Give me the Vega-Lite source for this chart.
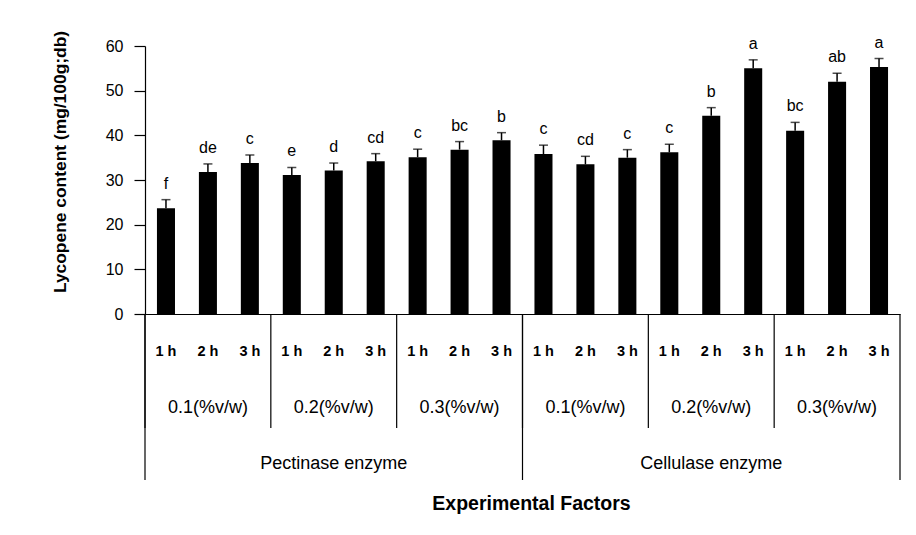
{
  "$schema": "https://vega.github.io/schema/vega-lite/v6.json",
  "padding": {"left": 50, "top": 30, "right": 18, "bottom": 10},
  "background": "white",
  "config": {
    "view": {"stroke": null},
    "font": "Liberation Sans",
    "text": {"color": "black", "font": "Liberation Sans"},
    "axis": {"labelFont": "Liberation Sans", "titleFont": "Liberation Sans"}
  },
  "datasets": {
    "bars": [
      {"id": 1, "enzyme": "Pectinase enzyme", "dose": "0.1(%v/w)", "time": "1 h", "value": 23.7, "upper": 25.6, "letter": "f"},
      {"id": 2, "enzyme": "Pectinase enzyme", "dose": "0.1(%v/w)", "time": "2 h", "value": 31.8, "upper": 33.6, "letter": "de"},
      {"id": 3, "enzyme": "Pectinase enzyme", "dose": "0.1(%v/w)", "time": "3 h", "value": 33.8, "upper": 35.6, "letter": "c"},
      {"id": 4, "enzyme": "Pectinase enzyme", "dose": "0.2(%v/w)", "time": "1 h", "value": 31.1, "upper": 32.8, "letter": "e"},
      {"id": 5, "enzyme": "Pectinase enzyme", "dose": "0.2(%v/w)", "time": "2 h", "value": 32.1, "upper": 33.8, "letter": "d"},
      {"id": 6, "enzyme": "Pectinase enzyme", "dose": "0.2(%v/w)", "time": "3 h", "value": 34.2, "upper": 35.9, "letter": "cd"},
      {"id": 7, "enzyme": "Pectinase enzyme", "dose": "0.3(%v/w)", "time": "1 h", "value": 35.1, "upper": 36.9, "letter": "c"},
      {"id": 8, "enzyme": "Pectinase enzyme", "dose": "0.3(%v/w)", "time": "2 h", "value": 36.8, "upper": 38.6, "letter": "bc"},
      {"id": 9, "enzyme": "Pectinase enzyme", "dose": "0.3(%v/w)", "time": "3 h", "value": 38.9, "upper": 40.6, "letter": "b"},
      {"id": 10, "enzyme": "Cellulase enzyme", "dose": "0.1(%v/w)", "time": "1 h", "value": 35.8, "upper": 37.8, "letter": "c"},
      {"id": 11, "enzyme": "Cellulase enzyme", "dose": "0.1(%v/w)", "time": "2 h", "value": 33.5, "upper": 35.3, "letter": "cd"},
      {"id": 12, "enzyme": "Cellulase enzyme", "dose": "0.1(%v/w)", "time": "3 h", "value": 35.0, "upper": 36.8, "letter": "c"},
      {"id": 13, "enzyme": "Cellulase enzyme", "dose": "0.2(%v/w)", "time": "1 h", "value": 36.2, "upper": 38.0, "letter": "c"},
      {"id": 14, "enzyme": "Cellulase enzyme", "dose": "0.2(%v/w)", "time": "2 h", "value": 44.4, "upper": 46.2, "letter": "b"},
      {"id": 15, "enzyme": "Cellulase enzyme", "dose": "0.2(%v/w)", "time": "3 h", "value": 55.0, "upper": 56.9, "letter": "a"},
      {"id": 16, "enzyme": "Cellulase enzyme", "dose": "0.3(%v/w)", "time": "1 h", "value": 41.0, "upper": 42.9, "letter": "bc"},
      {"id": 17, "enzyme": "Cellulase enzyme", "dose": "0.3(%v/w)", "time": "2 h", "value": 52.0, "upper": 53.9, "letter": "ab"},
      {"id": 18, "enzyme": "Cellulase enzyme", "dose": "0.3(%v/w)", "time": "3 h", "value": 55.3, "upper": 57.2, "letter": "a"}
    ]
  },
  "data": {"name": "bars"},
  "spacing": 0,
  "bounds": "flush",
  "resolve": {"scale": {"x": "shared"}},
  "vconcat": [
    {
      "width": 755,
      "height": 268,
      "encoding": {
        "x": {
          "field": "id", "type": "ordinal",
          "scale": {"paddingInner": 0, "paddingOuter": 0},
          "axis": {"title": null, "labels": false, "ticks": false, "domain": true, "domainColor": "black", "domainWidth": 1.2}
        }
      },
      "layer": [
        {
          "mark": {"type": "bar", "color": "black", "width": {"band": 0.43}},
          "encoding": {
            "y": {
              "field": "value", "type": "quantitative",
              "scale": {"domain": [0, 60], "nice": false},
              "axis": {
                "title": "Lycopene content (mg/100g;db)",
                "values": [0, 10, 20, 30, 40, 50, 60],
                "grid": false,
                "tickSize": 11, "tickColor": "black", "tickWidth": 1.2,
                "domainColor": "black", "domainWidth": 1.2,
                "labelColor": "black", "labelFontSize": 16, "labelPadding": 11,
                "titleFontSize": 17.4, "titleFontWeight": "bold", "titleColor": "black",
                "titleX": -76, "titleY": 115.5, "titleAlign": "center", "titleAngle": -90, "titleBaseline": "bottom"
              }
            }
          }
        },
        {
          "mark": {"type": "rule", "color": "black", "strokeWidth": 1.5},
          "encoding": {
            "y": {"field": "value", "type": "quantitative"},
            "y2": {"field": "upper"}
          }
        },
        {
          "mark": {"type": "tick", "color": "black", "thickness": 1.5, "size": 9},
          "encoding": {"y": {"field": "upper", "type": "quantitative"}}
        },
        {
          "mark": {"type": "text", "baseline": "alphabetic", "dy": -11, "fontSize": 16},
          "encoding": {
            "y": {"field": "upper", "type": "quantitative"},
            "text": {"field": "letter"}
          }
        }
      ]
    },
    {
      "width": 755,
      "height": 166,
      "encoding": {
        "x": {
          "field": "id", "type": "ordinal",
          "axis": {
            "title": "Experimental Factors", "labels": false, "ticks": false, "domain": false,
            "titleFontSize": 19.5, "titleFontWeight": "bold", "titlePadding": 14, "titleX": 386,
            "titleColor": "black"
          }
        }
      },
      "layer": [
        {
          "mark": {"type": "text", "baseline": "middle", "fontSize": 14.5, "fontWeight": "bold"},
          "encoding": {
            "y": {"datum": 1, "type": "quantitative", "scale": {"domain": [0.32, 3.29], "nice": false, "zero": false, "reverse": true}, "axis": null},
            "text": {"field": "time"}
          }
        },
        {
          "transform": [{"filter": "datum.time == '2 h'"}],
          "mark": {"type": "text", "baseline": "middle", "fontSize": 18},
          "encoding": {
            "y": {"datum": 2, "type": "quantitative"},
            "text": {"field": "dose"}
          }
        },
        {
          "transform": [{"filter": "datum.time == '2 h' && datum.dose == '0.2(%v/w)'"}],
          "mark": {"type": "text", "baseline": "middle", "fontSize": 18},
          "encoding": {
            "y": {"datum": 3, "type": "quantitative"},
            "text": {"field": "enzyme"}
          }
        },
        {
          "transform": [{"filter": "datum.time == '1 h'"}],
          "mark": {"type": "rule", "color": "black", "strokeWidth": 1.2},
          "encoding": {
            "x": {"field": "id", "type": "ordinal", "bandPosition": 0},
            "y": {"datum": 0.32, "type": "quantitative"},
            "y2": {"datum": 2.36}
          }
        },
        {
          "transform": [{"filter": "datum.time == '1 h' && datum.dose == '0.1(%v/w)'"}],
          "mark": {"type": "rule", "color": "black", "strokeWidth": 1.2},
          "encoding": {
            "x": {"field": "id", "type": "ordinal", "bandPosition": 0},
            "y": {"datum": 0.32, "type": "quantitative"},
            "y2": {"datum": 3.29}
          }
        },
        {
          "transform": [{"filter": "datum.id == 18"}],
          "mark": {"type": "rule", "color": "black", "strokeWidth": 1.2},
          "encoding": {
            "x": {"field": "id", "type": "ordinal", "bandPosition": 1},
            "y": {"datum": 0.32, "type": "quantitative"},
            "y2": {"datum": 3.29}
          }
        }
      ]
    }
  ]
}
